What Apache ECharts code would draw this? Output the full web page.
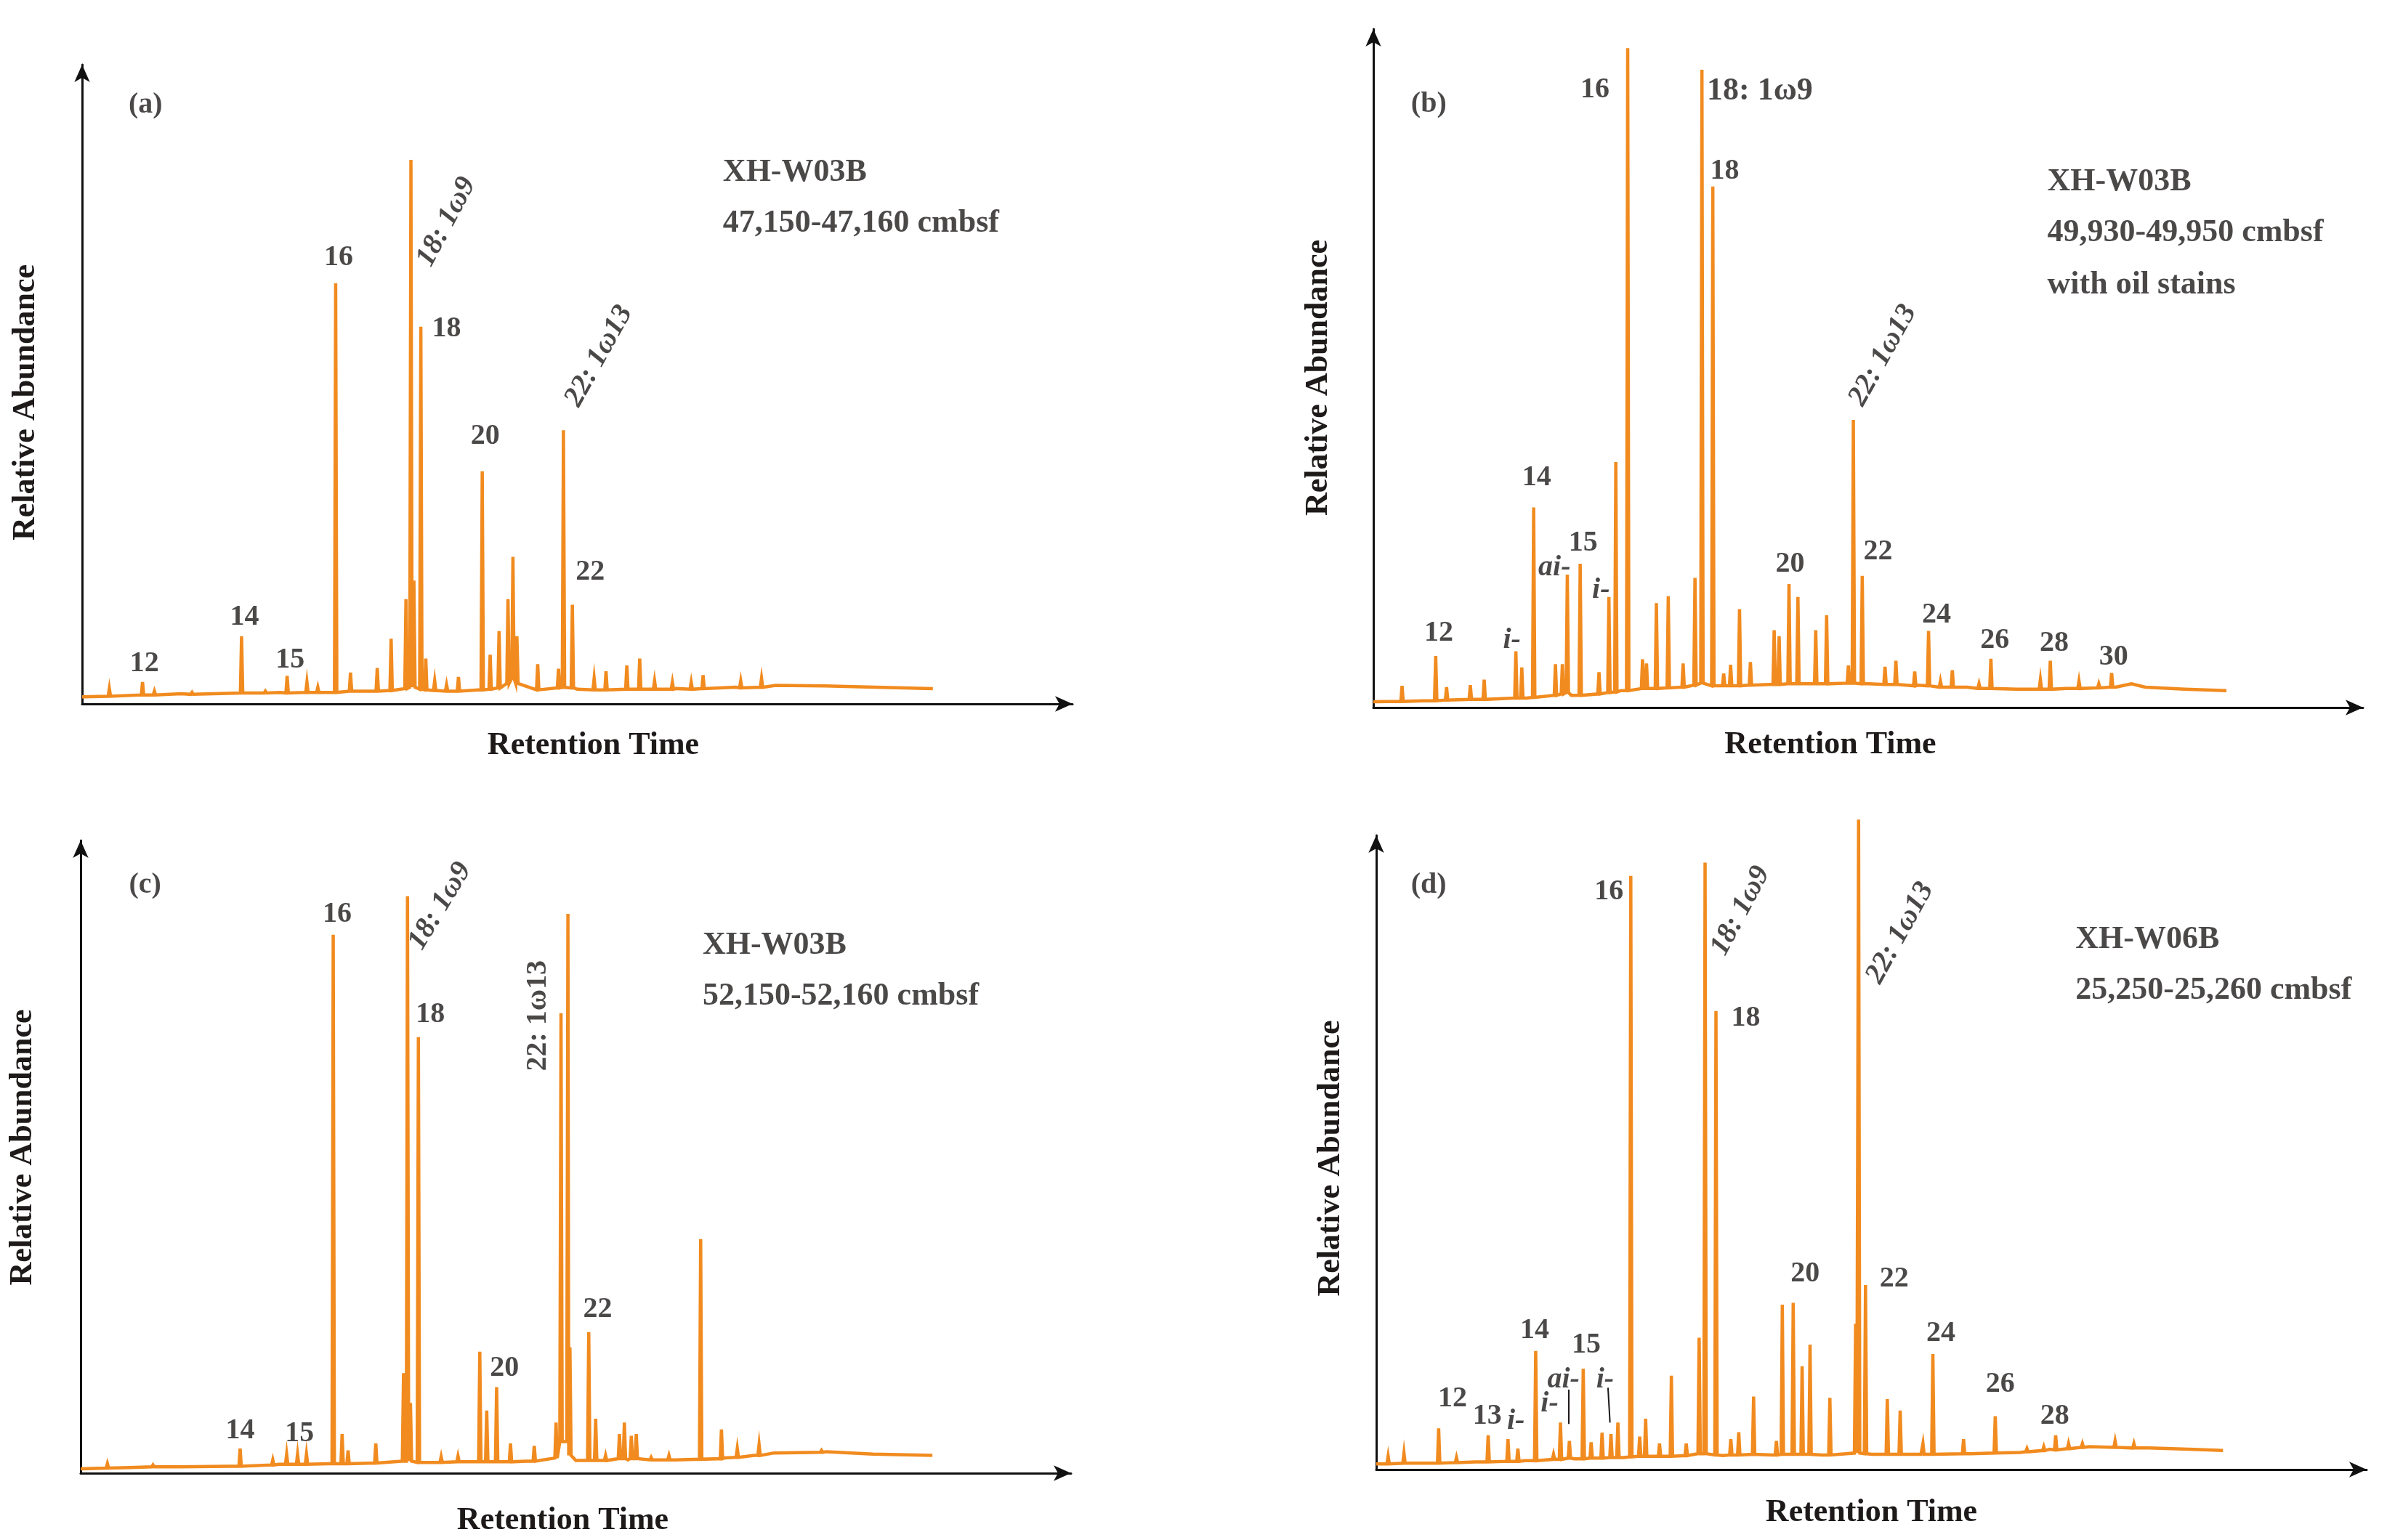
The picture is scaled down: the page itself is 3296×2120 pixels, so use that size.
<!DOCTYPE html>
<html>
<head>
<meta charset="utf-8">
<title>Fatty acid chromatograms</title>
<script src="https://cdn.jsdelivr.net/npm/echarts@6/dist/echarts.min.js"></script>
<style>
  html, body { margin: 0; padding: 0; background: #fff; }
  #chart { width: 3296px; height: 2120px; }
</style>
</head>
<body>
<div id="chart"></div>
<script>
// retention time and abundance are both in % of the axis length
// baseline points: [x, y]; peaks: [x, top, foot]

var baseA = [[0,1.1],[10,1.6],[20,1.8],[30,2.0],[40,2.2],[50,2.3],[60,2.4],[66,2.6],[70,2.9],[75,2.8],[80,2.6],[85.9,2.4]];
var peaksA = [
  [2.75,2.4,1.2],[6.1,3.4,1.4],[7.3,2.0,1.4],[11.1,1.8,1.5],[16.1,10.6,1.7],[18.5,2.0,1.7],
  [20.7,4.4,1.7],[22.7,3.4,1.8],[23.8,2.6,1.8],[25.6,65.8,1.8],[27.1,4.9,2.0],[29.8,5.6,2.0],
  [31.2,10.2,2.1],[32.7,16.4,2.4],[33.2,85.1,2.6],[33.5,19.3,2.6],[34.2,59.0,2.3],[34.7,7.1,2.2],
  [35.6,3.6,2.1],[36.8,3.0,2.0],[38.0,4.2,2.0],[40.4,36.4,2.2],[41.2,7.7,2.3],[42.1,11.4,2.5],
  [43.0,16.4,3.2],[43.5,23.0,4.0],[43.9,10.6,3.2],[46.0,6.2,2.2],[48.1,5.5,2.5],[48.6,42.8,2.6],
  [49.5,15.5,2.5],[51.7,4.0,2.2],[52.9,5.1,2.2],[55.0,6.0,2.3],[56.3,7.1,2.3],[57.8,3.6,2.3],
  [59.6,3.4,2.3],[61.5,3.4,2.3],[62.7,4.5,2.4],[66.5,3.6,2.5],[68.6,4.0,2.6]
];

var baseB = [[0,0.85],[5,1.0],[10,1.2],[15.5,1.4],[20,1.8],[25,2.5],[30,3.0],[35,3.2],[40,3.4],[45,3.5],[50,3.5],[55,3.3],[60,3.0],[65,2.8],[70,2.8],[75,3.0],[76.6,3.5],[78,3.0],[82,2.7],[86.2,2.5]];
var peaksB = [
  [2.9,3.2,0.9],[6.3,7.6,1.0],[7.4,3.0,1.1],[9.8,3.3,1.2],[11.2,4.1,1.2],[14.4,8.3,1.4],
  [15.0,5.9,1.4],[16.2,29.5,1.5],[18.4,6.4,1.8],[19.1,6.4,2.0],[19.6,19.6,2.2],[20.9,21.2,1.8],
  [22.8,5.2,2.0],[23.8,16.3,2.2],[24.5,36.2,2.3],[25.7,97.2,2.5],[27.2,7.1,2.8],[27.6,6.5,2.8],
  [28.6,15.4,2.8],[29.8,16.4,2.9],[31.3,6.5,3.0],[32.5,19.1,3.3],[33.2,94.0,3.6],[34.3,76.8,3.2],
  [35.4,5.0,3.2],[36.1,6.3,3.2],[37.0,14.5,3.2],[38.1,6.7,3.3],[40.5,11.4,3.4],[41.0,10.5,3.4],
  [42.0,18.2,3.5],[42.9,16.3,3.5],[44.7,11.4,3.5],[45.8,13.6,3.5],[48.0,6.2,3.6],[48.5,42.4,3.6],
  [49.4,19.4,3.5],[51.7,6.0,3.4],[52.8,6.9,3.4],[54.7,5.3,3.2],[56.1,11.3,3.2],[57.3,3.9,3.0],
  [58.5,5.5,3.0],[61.2,3.5,2.8],[62.4,7.2,2.8],[65.1,2.9,2.7],[67.4,4.1,2.7],[68.4,6.9,2.7],
  [71.3,3.9,2.8],[73.3,3.5,2.9],[74.6,5.1,3.0]
];

var baseC = [[0,0.7],[5,0.9],[10,1.0],[15,1.1],[20,1.4],[25,1.5],[30,1.6],[35,1.7],[40,1.8],[45,1.9],[50,2.0],[55.25,2.1],[60,2.1],[65,2.4],[68,2.8],[70,3.2],[75.3,3.4],[80,3.0],[86,2.8]];
var peaksC = [
  [2.7,1.5,0.8],[7.3,1.3,1.0],[16.1,3.9,1.1],[19.4,2.1,1.3],[20.8,3.0,1.4],[21.9,3.0,1.4],
  [22.8,3.0,1.4],[25.5,85.1,1.5],[26.4,6.2,1.5],[27.0,3.6,1.5],[29.8,4.7,1.6],[32.6,15.8,1.9],
  [33.0,91.2,1.9],[33.3,11.1,1.9],[34.1,68.9,1.7],[36.4,2.6,1.7],[38.1,2.7,1.8],[40.3,19.2,1.8],
  [41.0,9.9,1.8],[42.0,13.6,1.8],[43.4,4.7,1.8],[45.8,4.3,1.9],[48.0,8.0,2.4],[48.5,72.7,5.0],
  [49.2,88.4,5.0],[49.4,19.9,2.8],[51.3,22.3,2.0],[52.0,8.6,2.0],[53.0,2.8,2.0],[54.4,6.2,2.3],
  [54.9,8.0,2.3],[55.6,5.9,2.3],[56.1,6.2,2.3],[57.6,2.5,2.1],[59.4,2.8,2.1],[62.6,37.0,2.2],
  [64.7,6.9,2.3],[66.3,3.9,2.5],[68.5,4.5,2.8],[74.8,3.6,3.3]
];

var baseD = [[0,0.9],[5,1.0],[10,1.2],[15,1.4],[20,1.7],[25,1.9],[30,2.1],[35,2.2],[40,2.3],[45,2.3],[50,2.4],[55,2.4],[60,2.5],[65,2.7],[68,3.2],[72,3.6],[78,3.4],[82,3.2],[85.5,3.0]];
var peaksD = [
  [1.2,2.1,0.9],[2.8,2.6,1.0],[6.3,6.5,1.0],[8.1,1.9,1.1],[11.3,5.4,1.2],[13.3,4.8,1.3],
  [14.3,3.3,1.3],[16.1,18.7,1.4],[17.9,2.4,1.6],[18.6,7.4,1.6],[19.5,4.5,1.8],[20.9,15.9,1.7],
  [21.7,4.3,1.8],[22.8,5.8,1.8],[23.7,5.6,1.9],[24.4,7.4,1.9],[25.7,93.6,2.0],[26.6,5.2,2.1],
  [27.2,8.0,2.1],[28.6,4.1,2.1],[29.8,14.8,2.1],[31.3,4.1,2.2],[32.6,20.8,2.5],[33.2,95.7,2.5],
  [34.3,72.3,2.3],[35.8,4.8,2.3],[36.6,5.9,2.3],[38.1,11.5,2.4],[40.4,4.5,2.3],[41.0,26.0,2.4],
  [42.1,26.3,2.4],[43.0,16.3,2.4],[43.8,19.7,2.4],[45.8,11.3,2.3],[48.4,23.0,2.6],[48.7,102.5,2.6],
  [49.4,29.1,2.5],[51.6,11.1,2.4],[52.9,9.3,2.4],[55.2,4.1,2.4],[56.2,18.2,2.4],[59.3,4.8,2.5],
  [62.5,8.4,2.6],[65.7,3.3,2.8],[67.4,3.6,3.0],[68.6,5.4,3.1],[69.9,4.1,3.3],[71.3,4.1,3.5],
  [74.6,4.5,3.5],[76.5,4.1,3.4]
];

// annotations: [text, x, y, rotate, anchor ('c' centre / 'l' left), italic]
var notesA = [
  ['(a)',6.4,93.7,0,'c',false],['XH-W03B',64.7,83.1,0,'l',false],['47,150-47,160 cmbsf',64.7,75.1,0,'l',false],
  ['12',6.3,6.3,0,'c',false],['14',16.4,13.6,0,'c',false],['15',21.0,6.8,0,'c',false],['16',25.9,69.8,0,'c',false],
  ['18: 1ω9',36.8,75.4,62,'c',true],['18',36.8,58.7,0,'c',false],['20',40.7,41.8,0,'c',false],
  ['22: 1ω13',52.2,54.4,61,'c',true],['22',51.3,20.6,0,'c',false]
];
var notesB = [
  ['(b)',5.6,88.9,0,'c',false],['16',22.4,91.0,0,'c',false],['18: 1ω9',33.7,90.8,0,'l',false],['18',35.5,79.0,0,'c',false],
  ['XH-W03B',68.1,77.4,0,'l',false],['49,930-49,950 cmbsf',68.1,70.0,0,'l',false],['with oil stains',68.1,62.2,0,'l',false],
  ['22: 1ω13',51.5,51.9,61,'c',true],['14',16.5,33.9,0,'c',false],['15',21.2,24.2,0,'c',false],
  ['ai-',18.3,20.6,0,'c',true],['i-',23.0,17.3,0,'c',true],['i-',14.0,9.9,0,'c',true],['12',6.6,11.0,0,'c',false],
  ['20',42.1,21.1,0,'c',false],['22',51.0,23.0,0,'c',false],['24',56.9,13.6,0,'c',false],['26',62.8,9.9,0,'c',false],
  ['28',68.8,9.5,0,'c',false],['30',74.8,7.4,0,'c',false]
];
var notesC = [
  ['(c)',6.5,92.9,0,'c',false],['16',25.9,88.3,0,'c',false],['18: 1ω9',36.3,89.6,59,'c',true],['18',35.3,72.5,0,'c',false],
  ['22: 1ω13',46.2,72.3,90,'c',false],['XH-W03B',62.8,83.4,0,'l',false],['52,150-52,160 cmbsf',62.8,75.4,0,'l',false],
  ['22',52.2,25.9,0,'c',false],['20',42.8,16.6,0,'c',false],['14',16.1,6.7,0,'c',false],['15',22.1,6.2,0,'c',false]
];
var notesD = [
  ['(d)',5.3,92.1,0,'c',false],['16',23.5,91.1,0,'c',false],['18: 1ω9',36.8,88.1,62,'c',true],['18',37.3,71.2,0,'c',false],
  ['22: 1ω13',52.9,84.6,61,'c',true],['XH-W06B',70.6,83.5,0,'l',false],['25,250-25,260 cmbsf',70.6,75.5,0,'l',false],
  ['20',43.3,30.8,0,'c',false],['22',52.3,30.0,0,'c',false],['24',57.0,21.5,0,'c',false],['26',63.0,13.4,0,'c',false],
  ['28',68.5,8.4,0,'c',false],['14',16.0,21.9,0,'c',false],['15',21.2,19.6,0,'c',false],['ai-',18.9,14.1,0,'c',true],
  ['i-',17.5,10.4,0,'c',true],['i-',23.1,14.1,0,'c',true],['12',7.7,11.2,0,'c',false],['13',11.2,8.4,0,'c',false],
  ['i-',14.1,7.6,0,'c',true]
];
// thin leader lines under the i-/ai- labels of panel (d): [x1, y1, x2, y2]
var leadersD = [[19.4,12.6,19.4,7.2],[23.4,12.9,23.6,7.4]];

var ORANGE = '#f18b1f';
var INK = '#1e1a1a';
var FONT = '"Liberation Serif", "Times New Roman", serif';
var HALF = 0.12; // half width of a peak foot, in x units

function trace(base, peaks) {
    var pts = base.slice();
    peaks.forEach(function (p) {
        pts.push([p[0] - HALF, p[2]], [p[0], p[1]], [p[0] + HALF, p[2]]);
    });
    pts.sort(function (a, b) { return a[0] - b[0]; });
    return pts;
}

function noteItems(notes) {
    return notes.map(function (n) {
        return {
            value: [n[1], n[2]],
            label: {
                show: true,
                formatter: n[0],
                rotate: n[3],
                position: n[4] === 'l' ? 'right' : 'inside',
                distance: 0,
                fontStyle: n[5] ? 'italic' : 'normal',
                fontSize: n[4] === 'l' ? 44 : 40
            }
        };
    });
}

var panels = [
    { base: baseA, peaks: peaksA, notes: notesA, grid: { left: 113, top: 89, width: 1363, height: 880 }, xGap: 36, yGap: 55, xPad: [0, 0, 0, 44], yPad: [0, 50, 0, 0] },
    { base: baseB, peaks: peaksB, notes: notesB, grid: { left: 1890, top: 40, width: 1362, height: 934 }, xGap: 30, yGap: 53, xPad: [0, 104, 0, 0], yPad: [0, 26, 0, 0] },
    { base: baseC, peaks: peaksC, notes: notesC, grid: { left: 111, top: 1157, width: 1363, height: 871 }, xGap: 44, yGap: 57, xPad: [0, 36, 0, 0], yPad: [0, 0, 0, 26] },
    { base: baseD, peaks: peaksD, notes: notesD, grid: { left: 1894, top: 1150, width: 1363, height: 873 }, xGap: 38, yGap: 40, xPad: [0, 0, 0, 0], yPad: [0, 16, 0, 0] }
];

var axisLine = {
    show: true,
    symbol: ['none', 'arrow'],
    symbolSize: [16, 24],
    lineStyle: { color: '#111', width: 3 }
};
var nameStyle = { fontFamily: FONT, fontWeight: 'bold', fontSize: 44, color: INK };

var option = {
    animation: false,
    backgroundColor: '#fff',
    grid: [], xAxis: [], yAxis: [], series: []
};

panels.forEach(function (p, i) {
    option.grid.push(p.grid);
    option.xAxis.push({
        gridIndex: i, type: 'value', min: 0, max: 100,
        name: 'Retention Time', nameLocation: 'middle', nameGap: p.xGap,
        nameTextStyle: Object.assign({ padding: p.xPad }, nameStyle),
        axisLine: axisLine, axisTick: { show: false }, axisLabel: { show: false }, splitLine: { show: false }
    });
    option.yAxis.push({
        gridIndex: i, type: 'value', min: 0, max: 100,
        name: 'Relative Abundance', nameLocation: 'middle', nameGap: p.yGap,
        nameTextStyle: Object.assign({ padding: p.yPad }, nameStyle),
        axisLine: axisLine, axisTick: { show: false }, axisLabel: { show: false }, splitLine: { show: false }
    });
    var line = {
        type: 'line', xAxisIndex: i, yAxisIndex: i,
        data: trace(p.base, p.peaks),
        symbol: 'none', clip: false, silent: true,
        lineStyle: { color: ORANGE, width: 4.5, join: 'miter' }
    };
    if (i === 3) {
        line.markLine = {
            silent: true, symbol: 'none', label: { show: false },
            lineStyle: { color: INK, width: 2, type: 'solid' },
            data: leadersD.map(function (l) { return [{ coord: [l[0], l[1]] }, { coord: [l[2], l[3]] }]; })
        };
    }
    option.series.push(line);
    option.series.push({
        type: 'scatter', xAxisIndex: i, yAxisIndex: i,
        symbolSize: 0, silent: true, clip: false,
        label: { show: true, color: INK, fontFamily: FONT, fontWeight: 'bold' },
        data: noteItems(p.notes)
    });
});

var chart = echarts.init(document.getElementById('chart'));
chart.setOption(option);
window.addEventListener('resize', function () { chart.resize(); });
</script>
</body>
</html>
